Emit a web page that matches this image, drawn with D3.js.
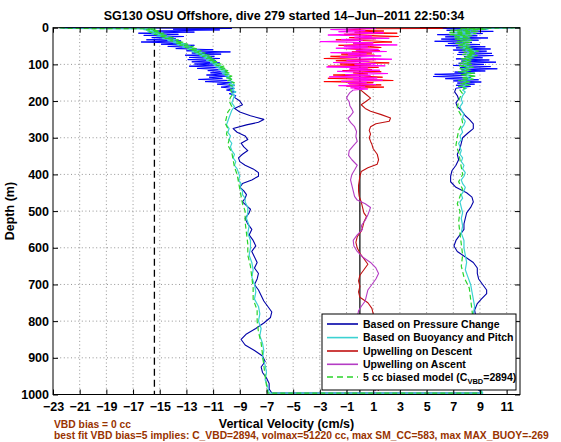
<!DOCTYPE html>
<html><head><meta charset="utf-8">
<script src="https://cdn.jsdelivr.net/npm/d3@7/dist/d3.min.js"></script>
<style>
body{margin:0;background:#fff}
svg{display:block}
text{font-family:"Liberation Sans",Arial,Helvetica,sans-serif;font-weight:bold}
</style>
</head><body>
<svg id="chart" width="561" height="442"></svg>
<script>
// ---------------- DATA (depth m, vertical velocity cm/s) ----------------
const xTickValues = [-23,-21,-19,-17,-15,-13,-11,-9,-7,-5,-3,-1,1,3,5,7,9,11];
const yTickValues = [0,100,200,300,400,500,600,700,800,900,1000];
const titleText = "SG130 OSU Offshore, dive 279 started 14\u2013Jun\u20132011 22:50:34";
const xLabelText = "Vertical Velocity (cm/s)";
const yLabelText = "Depth (m)";
const note1 = "VBD bias = 0 cc";
const note2 = "best fit VBD bias=5 implies: C_VBD=2894, volmax=51220 cc, max SM_CC=583, max MAX_BUOY=-269";
const legendLabels = ["Based on Pressure Change","Based on Buoyancy and Pitch","Upwelling on Descent","Upwelling on Ascent","5 cc biased model (C"];
const dashedRefValue = -15.4;
const zeroRefValue = 0;

// Pressure-change velocity
const blueDescTop = [[0,-22.5],[1,-15.0],[2,-9.6],[4,-14.0],[6,-10.5],[9,-15.2],[12,-12.4],[15,-16.6],[18,-13.6],[21,-16.2],[24,-13.2],[27,-15.6],[30,-13.8],[33,-16.0],[36,-13.4],[39,-16.4],[42,-13.6],[45,-14.9],[48,-12.4],[51,-14.4],[54,-12.6],[57,-13.8],[60,-11.0],[63,-13.0],[66,-9.7],[69,-12.6],[72,-10.4],[75,-13.1],[78,-10.9],[81,-12.8],[84,-10.5],[87,-12.9],[90,-10.8],[93,-12.6],[96,-10.5],[99,-12.4],[102,-10.9],[105,-12.8],[108,-10.6],[111,-12.2],[114,-10.3],[117,-11.4],[120,-10.0],[123,-11.2],[126,-10.1],[129,-11.5],[132,-9.9],[135,-11.3],[138,-10.3],[141,-12.1],[144,-9.7],[147,-11.6],[150,-9.6],[154,-10.7],[158,-9.4],[162,-10.4],[166,-9.4],[170,-10.0],[175,-9.3],[180,-9.8],[185,-9.3],[190,-9.4]];
const blueDescLow = [[190,-9.4],[200,-9.0],[210,-8.8],[220,-9.4],[230,-9.0],[240,-8.2],[250,-7.2],[258,-7.6],[265,-8.5],[275,-9.5],[285,-9.2],[295,-8.6],[305,-8.4],[315,-8.9],[325,-8.7],[335,-8.4],[345,-8.8],[355,-9.1],[365,-9.0],[375,-8.6],[385,-8.0],[395,-7.6],[405,-7.6],[415,-8.1],[425,-8.8],[435,-9.0],[445,-8.7],[455,-8.5],[465,-8.6],[475,-8.8],[485,-8.5],[495,-8.2],[505,-8.3],[520,-8.6],[535,-8.4],[550,-8.1],[565,-8.3],[580,-8.0],[595,-7.8],[610,-8.1],[625,-7.9],[640,-7.7],[655,-7.9],[670,-7.6],[685,-7.7],[700,-7.9],[715,-7.6],[730,-7.4],[745,-7.2],[760,-6.9],[775,-6.6],[790,-6.7],[805,-7.2],[820,-7.8],[835,-8.5],[850,-8.9],[865,-8.6],[880,-7.9],[895,-7.3],[910,-7.1],[925,-7.4],[940,-7.3],[955,-7.0],[970,-6.8],[985,-6.8],[996,-6.6]];
const blueAscLow = [[165,7.2],[175,7.1],[185,7.3],[195,7.4],[205,7.2],[215,7.3],[225,7.6],[240,7.9],[250,8.2],[262,8.5],[275,8.5],[287,8.1],[300,7.7],[315,7.6],[330,7.5],[345,7.3],[360,7.4],[375,7.2],[390,6.9],[405,6.8],[420,6.8],[435,7.2],[450,8.0],[462,8.4],[475,8.5],[490,8.3],[505,8.0],[520,7.9],[535,7.8],[550,7.8],[565,7.5],[580,7.2],[595,7.05],[610,7.3],[625,7.9],[640,8.5],[655,8.8],[670,8.8],[685,8.9],[700,9.2],[715,9.5],[725,9.5],[740,9.1],[752,8.8],[770,8.6],[790,8.7],[810,8.9],[830,9.1],[850,8.8],[870,8.5],[890,8.7],[910,9.0],[930,8.8],[950,8.6],[970,8.7],[985,8.8],[996,9.2]];
const blueAscTop = [[0,11.5],[1,9.0],[2,6.0],[4,9.5],[7,6.5],[10,10.0],[13,7.0],[16,9.2],[19,5.8],[22,8.8],[25,6.4],[28,9.6],[31,6.1],[34,8.9],[37,5.6],[40,8.4],[43,6.6],[46,9.0],[49,6.4],[52,9.4],[55,7.2],[58,9.8],[61,7.0],[64,9.5],[67,7.4],[70,9.9],[73,7.3],[76,10.0],[79,7.8],[82,9.2],[85,7.2],[88,9.7],[91,7.6],[94,10.2],[97,7.4],[100,9.3],[103,7.0],[106,9.8],[109,7.5],[112,10.3],[115,7.6],[118,9.4],[121,7.1],[124,8.6],[127,5.6],[130,8.0],[133,5.5],[136,8.3],[139,6.4],[142,8.9],[145,7.0],[148,9.1],[151,7.3],[154,8.6],[157,7.2],[160,8.3],[165,7.2]];

// Buoyancy & pitch model velocity
const cyanDescTop = [[0,-22.5],[2,-22.0],[3,-15.5],[5,-16.2],[8,-15.2],[11,-15.9],[14,-14.8],[17,-15.6],[20,-14.5],[23,-15.2],[26,-14.1],[29,-14.8],[32,-13.8],[35,-14.4],[38,-13.4],[41,-14.0],[44,-13.0],[47,-13.7],[50,-12.7],[53,-13.3],[56,-12.4],[59,-12.9],[62,-12.0],[65,-12.6],[68,-11.8],[71,-12.3],[74,-11.5],[77,-12.0],[80,-11.2],[83,-11.7],[86,-11.0],[89,-11.5],[92,-10.8],[95,-11.2],[98,-10.6],[101,-11.0],[104,-10.4],[107,-10.8],[110,-10.2],[113,-10.6],[116,-10.0],[119,-10.4],[122,-9.9],[125,-10.3],[128,-9.8],[131,-10.1],[134,-9.7],[137,-10.0],[140,-9.6],[144,-9.9],[148,-9.5],[152,-9.8],[156,-9.4],[160,-9.7],[165,-9.4],[170,-9.6],[175,-9.3],[180,-9.6],[185,-9.4]];
const cyanDescLow = [[185,-9.4],[195,-9.5],[205,-9.6],[215,-9.4],[225,-9.6],[235,-9.7],[245,-9.8],[255,-9.9],[265,-10.0],[275,-9.8],[285,-9.9],[295,-9.7],[305,-9.8],[315,-9.6],[325,-9.7],[335,-9.6],[345,-9.4],[355,-9.5],[365,-9.3],[375,-9.4],[385,-9.2],[395,-9.1],[405,-9.0],[415,-9.1],[425,-8.9],[435,-9.0],[445,-8.8],[455,-8.8],[465,-8.6],[475,-8.6],[490,-8.4],[505,-8.4],[520,-8.5],[540,-8.3],[560,-8.4],[580,-8.2],[600,-8.2],[620,-8.3],[640,-8.1],[660,-8.0],[680,-8.1],[700,-7.9],[720,-7.8],[740,-7.9],[760,-7.6],[780,-7.5],[800,-7.6],[820,-7.4],[840,-7.5],[860,-7.3],[880,-7.2],[900,-7.3],[920,-7.1],[940,-7.0],[960,-7.1],[980,-6.9],[996,-6.8]];
const cyanAscLow = [[185,7.7],[195,7.6],[205,7.7],[215,7.5],[225,7.6],[235,7.8],[245,7.7],[255,7.9],[265,7.8],[275,7.6],[285,7.7],[295,7.5],[305,7.6],[315,7.4],[325,7.5],[335,7.6],[345,7.5],[355,7.7],[365,7.6],[375,7.8],[385,7.7],[395,7.9],[405,7.8],[415,7.6],[425,7.7],[435,7.9],[445,7.8],[455,7.6],[465,7.7],[475,7.5],[490,7.6],[505,7.7],[520,7.6],[540,7.7],[560,7.6],[580,7.8],[600,7.8],[620,7.9],[640,8.0],[660,7.9],[680,8.1],[700,8.3],[720,8.4],[740,8.5],[760,8.6],[780,8.5],[800,8.7],[820,8.6],[840,8.8],[860,8.7],[880,8.9],[900,8.8],[920,9.0],[940,8.9],[960,9.1],[980,9.0],[996,9.2]];
const cyanAscTop = [[0,12.0],[1,10.5],[2,8.0],[4,9.6],[7,7.0],[10,8.8],[13,6.8],[16,8.6],[19,6.9],[22,8.3],[25,7.1],[28,8.2],[31,7.3],[34,8.3],[37,7.5],[40,8.2],[43,7.4],[46,8.1],[49,7.6],[52,8.2],[55,7.7],[58,8.4],[61,7.9],[64,8.8],[67,8.0],[70,8.6],[73,7.9],[76,8.7],[79,8.0],[82,8.4],[85,7.8],[88,8.3],[91,7.9],[94,8.2],[97,7.7],[100,8.3],[104,7.6],[108,8.4],[112,7.7],[116,8.2],[120,7.6],[124,8.5],[128,7.7],[132,8.6],[136,7.8],[140,8.4],[144,7.6],[148,8.2],[152,7.7],[156,8.1],[160,7.6],[165,8.0],[170,7.7],[175,7.9],[180,7.8],[185,7.7]];

// Upwelling on descent
const redTop = [[0,6.5],[1,4.5],[2,6.2],[3,0.5],[6,-1.0],[9,1.8],[12,-0.4],[15,2.8],[18,-1.2],[21,0.6],[24,2.9],[27,-0.8],[30,1.2],[33,-1.8],[36,0.9],[39,2.4],[42,-0.5],[45,1.0],[48,-1.6],[51,0.7],[54,1.6],[57,-1.2],[60,0.3],[63,1.5],[66,-0.6],[69,0.9],[72,-1.4],[75,1.1],[78,-2.2],[81,-0.2],[84,-2.7],[87,1.2],[90,-1.8],[93,0.4],[96,2.2],[99,-1.5],[102,0.8],[105,-2.4],[108,1.4],[111,-0.7],[114,0.9],[117,-1.3],[120,1.6],[123,-0.5],[126,0.6],[129,-2.0],[132,0.3],[135,1.7],[138,-2.4],[141,0.5],[144,2.5],[147,-2.7],[150,1.0],[153,-0.8],[156,1.6],[159,-1.0],[162,1.8],[165,-0.4],[168,0.0]];
const redLow = [[168,0.0],[180,0.4],[192,0.8],[200,0.5],[210,0.1],[220,0.4],[228,0.8],[237,1.6],[246,2.3],[255,2.2],[262,1.2],[270,0.8],[280,0.7],[290,0.8],[300,0.7],[310,0.8],[318,0.9],[330,1.0],[345,1.3],[360,1.4],[372,1.3],[382,0.6],[392,0.1],[405,0.0],[418,-0.05],[430,-0.1],[445,-0.1],[460,-0.05],[475,0.1],[490,0.2],[505,0.3],[515,0.5],[530,0.3],[545,0.2],[555,0.1],[570,-0.2],[585,-0.3],[600,-0.2],[615,0.0],[630,0.3],[645,0.6],[660,0.3],[675,0.0],[690,-0.1],[705,0.0],[720,-0.1],[735,0.0],[750,0.6],[765,0.9],[780,1.0],[800,1.1],[820,1.0],[850,0.8],[880,0.9],[910,1.0],[940,0.8],[970,1.1],[990,1.4]];

// Upwelling on ascent
const magTop = [[0,-1.0],[2,1.2],[5,-2.2],[8,0.4],[11,-1.6],[14,1.8],[17,-0.6],[20,-2.4],[23,0.9],[26,-0.4],[29,2.2],[32,-1.4],[35,0.2],[38,-3.0],[41,1.0],[44,-0.5],[47,2.8],[50,-1.2],[53,0.6],[56,-1.8],[59,1.4],[62,-0.3],[65,2.0],[68,-2.2],[71,0.5],[74,-0.9],[77,1.6],[80,-1.5],[83,0.3],[86,2.4],[89,-1.0],[92,0.7],[95,-2.0],[98,1.2],[101,-0.4],[104,1.9],[107,-2.5],[110,0.6],[113,-0.8],[116,1.5],[119,-1.7],[122,0.2],[125,2.1],[128,-1.1],[131,0.8],[134,-2.3],[137,1.3],[140,-0.5],[143,1.7],[146,-1.4],[149,0.5],[152,-0.9],[155,1.2],[158,-1.6],[161,0.4],[164,-0.7],[167,0.6],[170,-0.5]];
const magLow = [[170,-0.5],[177,-0.75],[185,-0.9],[192,-1.0],[202,-0.8],[213,-0.75],[222,-0.6],[230,-0.5],[240,-0.7],[247,-0.9],[258,-0.7],[270,-0.4],[283,-0.25],[296,-0.3],[310,-0.2],[322,-0.5],[335,-0.8],[348,-0.85],[360,-0.6],[375,-0.2],[388,-0.4],[400,-0.6],[415,-0.7],[430,-0.6],[445,-0.5],[460,-0.4],[470,-0.2],[480,0.4],[490,0.8],[500,0.7],[510,0.6],[525,0.4],[540,0.1],[550,0.2],[565,-0.2],[580,-0.5],[595,-0.45],[610,-0.2],[625,0.2],[640,0.8],[655,1.2],[670,1.4],[685,1.2],[700,0.9],[715,0.6],[730,0.5],[745,0.4],[760,0.1],[772,-0.1],[790,-0.2],[820,0.0],[850,0.3],[880,0.5],[910,0.2],[940,0.0],[970,0.4],[990,1.2]];

// 5 cc biased model
const greenDesc = [[0,-22.5],[2,-21.8],[3,-15.3],[6,-16.0],[9,-15.0],[12,-15.8],[15,-14.7],[18,-15.4],[21,-14.4],[24,-15.0],[27,-14.0],[30,-14.6],[33,-13.6],[36,-14.2],[39,-13.2],[42,-13.8],[45,-12.9],[48,-13.5],[51,-12.5],[54,-13.1],[57,-12.2],[60,-12.8],[63,-11.9],[66,-12.4],[69,-11.6],[72,-12.1],[75,-11.3],[78,-11.8],[81,-11.0],[84,-11.5],[87,-10.8],[90,-11.3],[93,-10.6],[96,-11.0],[99,-10.4],[102,-10.8],[105,-10.2],[108,-10.6],[111,-10.0],[114,-10.4],[117,-9.9],[120,-10.2],[124,-9.7],[128,-10.1],[132,-9.6],[136,-10.0],[140,-9.5],[145,-9.9],[150,-9.4],[155,-9.8],[160,-9.5],[170,-9.7],[180,-9.5],[190,-9.7],[200,-9.8],[215,-9.6],[230,-9.9],[245,-10.0],[260,-10.1],[275,-9.9],[290,-10.0],[305,-9.8],[320,-9.9],[340,-9.6],[360,-9.5],[380,-9.4],[400,-9.2],[420,-9.1],[440,-9.0],[460,-8.9],[480,-8.8],[500,-8.6],[530,-8.6],[560,-8.5],[590,-8.4],[620,-8.4],[650,-8.2],[680,-8.1],[710,-8.0],[740,-8.0],[770,-7.7],[800,-7.7],[830,-7.6],[860,-7.4],[890,-7.3],[920,-7.2],[950,-7.1],[975,-7.0],[996,-6.9]];
const greenAsc = [[0,12.0],[1,10.2],[2,7.5],[4,9.4],[7,6.8],[10,8.9],[13,6.6],[16,8.7],[19,6.7],[22,8.4],[25,7.0],[28,8.3],[31,7.1],[34,8.4],[37,7.3],[40,8.3],[43,7.2],[46,8.2],[49,7.4],[52,8.3],[55,7.5],[58,8.5],[61,7.7],[64,8.9],[67,7.8],[70,8.7],[73,7.7],[76,8.8],[79,7.8],[82,8.5],[85,7.6],[88,8.4],[91,7.7],[94,8.3],[97,7.5],[100,8.4],[104,7.4],[108,8.5],[112,7.5],[116,8.3],[120,7.4],[124,8.6],[128,7.5],[132,8.7],[136,7.6],[140,8.5],[144,7.4],[148,8.3],[152,7.5],[156,8.2],[160,7.4],[165,7.9],[170,7.5],[180,7.7],[190,7.5],[200,7.4],[220,7.3],[240,7.6],[260,7.7],[280,7.4],[300,7.3],[320,7.2],[340,7.4],[360,7.5],[380,7.6],[400,7.7],[420,7.4],[440,7.7],[460,7.5],[480,7.3],[500,7.5],[530,7.4],[560,7.5],[590,7.6],[620,7.7],[650,7.6],[680,7.8],[710,8.2],[740,8.3],[770,8.4],[800,8.5],[830,8.6],[860,8.5],[890,8.7],[920,8.8],[950,8.7],[975,8.9],[996,9.1]];

// ---------------- DRAWING ----------------
const svg = d3.select("#chart");
const L = 53, R = 520, T = 27.7, B = 394.5;
const x = d3.scaleLinear().domain([-23, 12]).range([L, R]);
const y = d3.scaleLinear().domain([0, 1000]).range([T, B]);

svg.append("rect").attr("width",561).attr("height",442).attr("fill","#fff");

// grid
const grid = svg.append("g").attr("stroke","#7a7a7a").attr("stroke-width",0.8).attr("stroke-dasharray","1,2.6");
grid.selectAll(".gx").data(xTickValues.filter(v => v > -23)).enter().append("line")
  .attr("x1", d => x(d)).attr("x2", d => x(d)).attr("y1", T).attr("y2", B);
grid.selectAll(".gy").data(yTickValues.filter(v => v > 0 && v < 1000)).enter().append("line")
  .attr("x1", L).attr("x2", R).attr("y1", d => y(d)).attr("y2", d => y(d));

// reference lines
svg.append("line").attr("x1", x(dashedRefValue)).attr("x2", x(dashedRefValue)).attr("y1", T).attr("y2", B)
  .attr("stroke","#000").attr("stroke-width",1.3).attr("stroke-dasharray","7,4");
svg.append("line").attr("x1", x(zeroRefValue)).attr("x2", x(zeroRefValue)).attr("y1", T).attr("y2", B)
  .attr("stroke","#000").attr("stroke-width",1.2);

const line = d3.line().x(d => x(d[1])).y(d => y(d[0]));
const plot = svg.append("g");
function path(data, color, w, dash) {
  const p = plot.append("path").attr("d", line(data)).attr("fill","none")
    .attr("stroke", color).attr("stroke-width", w).attr("stroke-linejoin","round");
  if (dash) p.attr("stroke-dasharray", dash);
  return p;
}
const C = {blue:"#0000a8", blueHi:"#0000ff", cyan:"#3cd2d2", red:"#c01010", redHi:"#ff0000", mag:"#b43cc4", magHi:"#ff00ff", green:"#2bd42b"};

path(blueDescLow.concat(blueAscLow.slice().reverse()), C.blue, 1.1);
path(blueDescTop, C.blueHi, 1);
path(blueAscTop, C.blueHi, 1);
path(cyanDescTop.concat(cyanDescLow.slice(1)).concat(cyanAscLow.slice().reverse()).concat(cyanAscTop.slice().reverse().slice(1)), C.cyan, 1.2);
path(redLow, C.red, 1.1);
path(redTop, C.redHi, 1);
path(magLow, C.mag, 1.1);
path(magTop, C.magHi, 1);
path(greenDesc.concat(greenAsc.slice().reverse()), C.green, 1.2, "5,3");

// box and ticks
svg.append("rect").attr("x",L).attr("y",T).attr("width",R-L).attr("height",B-T)
  .attr("fill","none").attr("stroke","#000").attr("stroke-width",1);

const fmt = d => d < 0 ? "\u2212" + Math.abs(d) : String(d);
const ax = svg.append("g").attr("transform",`translate(0,${B})`)
  .call(d3.axisBottom(x).tickValues(xTickValues).tickSize(-5).tickPadding(8).tickFormat(fmt));
const axT = svg.append("g").attr("transform",`translate(0,${T})`)
  .call(d3.axisTop(x).tickValues(xTickValues).tickSize(-5).tickFormat(""));
const ay = svg.append("g").attr("transform",`translate(${L},0)`)
  .call(d3.axisLeft(y).tickValues(yTickValues).tickSize(-5).tickPadding(4).tickFormat(d => String(d)));
const ayR = svg.append("g").attr("transform",`translate(${R},0)`)
  .call(d3.axisRight(y).tickValues(yTickValues).tickSize(-5).tickFormat(""));
[ax, axT, ay, ayR].forEach(g => {
  g.select(".domain").remove();
  g.selectAll("line").attr("stroke","#000");
  g.selectAll("text").attr("font-family","Liberation Sans, Arial, sans-serif")
    .attr("font-weight","bold").attr("font-size",12.5).attr("fill","#000");
});

// titles
svg.append("text").attr("x",284).attr("y",19.5).attr("text-anchor","middle")
  .attr("font-size",12.5).text(titleText);
svg.append("text").attr("x",(L+R)/2).attr("y",428).attr("text-anchor","middle")
  .attr("font-size",12.5).text(xLabelText);
svg.append("text").attr("transform",`translate(14,${(T+B)/2}) rotate(-90)`).attr("text-anchor","middle")
  .attr("font-size",12.5).text(yLabelText);
svg.append("text").attr("x",54).attr("y",427.5).attr("font-size",10.3).attr("fill","#993300").text(note1);
svg.append("text").attr("x",54).attr("y",438.8).attr("font-size",10.3).attr("fill","#993300").text(note2);

// legend
const lg = svg.append("g");
lg.append("rect").attr("x",322).attr("y",314).attr("width",194).attr("height",76)
  .attr("fill","#fff").attr("stroke","#000").attr("stroke-width",1);
const legendColors = [C.blue, C.cyan, C.red, C.mag, C.green];
const legendRows = [324, 337.6, 351, 364.3, 377];
legendLabels.forEach((lab, i) => {
  lg.append("line").attr("x1",327).attr("x2",358).attr("y1",legendRows[i]).attr("y2",legendRows[i])
    .attr("stroke",legendColors[i]).attr("stroke-width",1.6)
    .attr("stroke-dasharray", i === 4 ? "6,4" : null);
  const t = lg.append("text").attr("x",363).attr("y",legendRows[i]+3.8).attr("font-size",10.5).text(lab);
  if (i === 4) {
    t.append("tspan").attr("font-size",7.5).attr("dy",3).text("VBD");
    t.append("tspan").attr("dy",-3).text("=2894)");
  }
});
</script>
</body></html>
